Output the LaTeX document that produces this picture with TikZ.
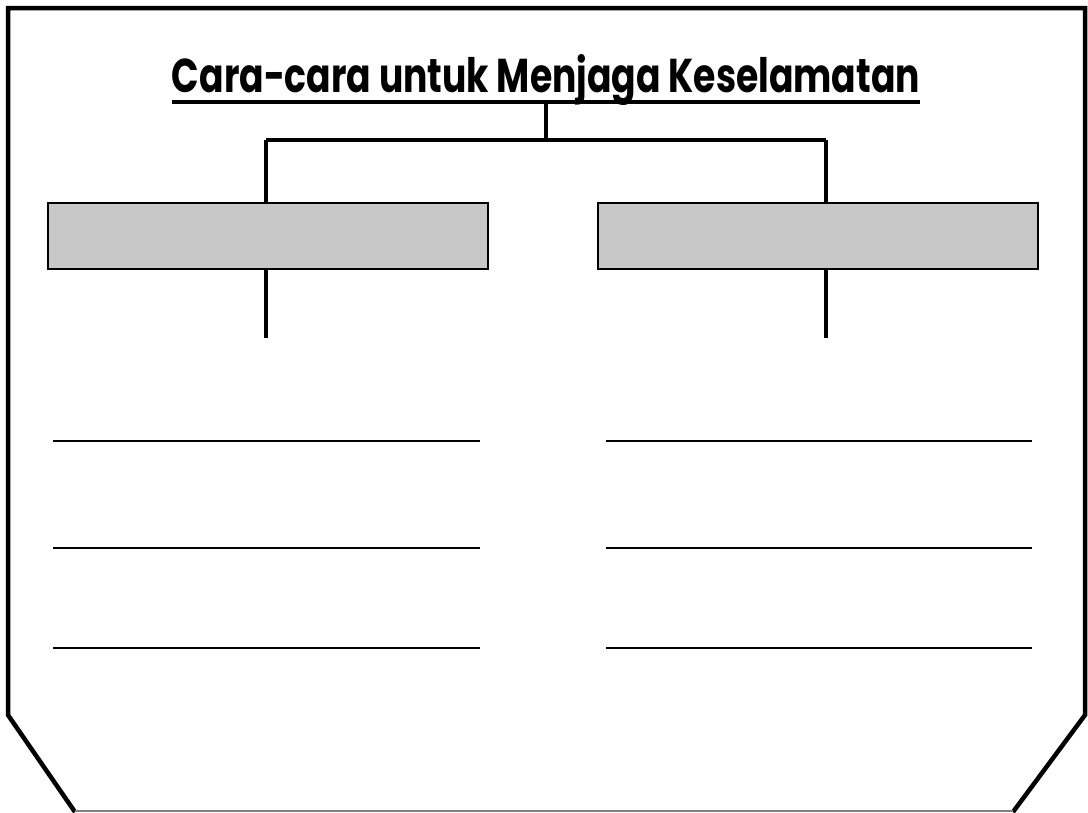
\documentclass[tikz,border=0pt]{standalone}
\usepackage{fontspec}
\newfontfamily\titlefont{Poppins}
\begin{document}
\begin{tikzpicture}[x=1pt,y=-1pt,
  frame/.style={line width=4.5pt,line join=miter},
  conn/.style={line width=4pt},
  headbox/.style={draw,line width=2.5pt,fill=boxgray,minimum width=440pt,minimum height=66pt,inner sep=0pt},
  wline/.style={line width=2pt}]
\definecolor{boxgray}{RGB}{200,200,200}
\useasboundingbox (0,0) rectangle (1088,812);
% outer frame
\draw[frame] (75,812) -- (8,715) -- (8,8) -- (1085,8) -- (1085,715) -- (1013,812);
\draw[line width=1.2pt,gray] (75,811) -- (1013,811);
% title
\node[anchor=base,inner sep=0pt] (title) at (546,92) {\resizebox{748pt}{38pt}{\titlefont\bfseries Cara-cara untuk Menjaga Keselamatan}};
\coordinate (ulL) at (172,102);
\coordinate (ulR) at (920,102);
\draw[conn] (ulL) -- (ulR);
\coordinate (ulM) at (546,102);
\coordinate (jn) at (546,140);
\coordinate (jL) at (266,140);
\coordinate (jR) at (826,140);
\draw[conn] (ulM) -- (jn);
\draw[conn] (jL) -- (jR);
% boxes
\node[headbox] (boxL) at (268,236) {};
\node[headbox] (boxR) at (818,236) {};
\draw[conn] (jL) -- (jL |- boxL.north);
\draw[conn] (jR) -- (jR |- boxR.north);
\coordinate (eL) at (266,338);
\coordinate (eR) at (826,338);
\draw[conn] (eL |- boxL.south) -- (eL);
\draw[conn] (eR |- boxR.south) -- (eR);
% writing lines
\foreach \y [count=\i] in {441,548,648}{
  \coordinate (l\i a) at (53,\y); \coordinate (l\i b) at (480,\y);
  \coordinate (r\i a) at (606,\y); \coordinate (r\i b) at (1032,\y);
  \draw[wline] (l\i a) -- (l\i b);
  \draw[wline] (r\i a) -- (r\i b);
}
\end{tikzpicture}
\end{document}
